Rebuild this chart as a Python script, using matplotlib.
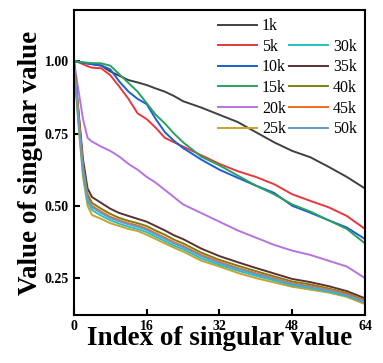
import matplotlib
matplotlib.use("Agg")
import matplotlib.pyplot as plt
from matplotlib.lines import Line2D

idx = [0, 1, 2, 3, 4, 6, 8, 10, 12, 14, 16, 18, 20, 22, 24, 28, 32, 36, 40, 44, 48, 52, 56, 60, 64]

sv_1k = [1.0, 0.998, 0.995, 0.993, 0.99, 0.985, 0.965, 0.95, 0.935, 0.927, 0.918, 0.906, 0.895, 0.88, 0.862,
         0.84, 0.815, 0.79, 0.755, 0.72, 0.69, 0.668, 0.635, 0.60, 0.56]
sv_5k = [1.0, 0.997, 0.99, 0.983, 0.978, 0.976, 0.952, 0.912, 0.87, 0.82, 0.80, 0.77, 0.735, 0.72, 0.705,
         0.675, 0.645, 0.62, 0.60, 0.575, 0.54, 0.517, 0.495, 0.465, 0.42]
sv_10k = [1.0, 0.998, 0.995, 0.992, 0.99, 0.986, 0.972, 0.93, 0.895, 0.87, 0.852, 0.80, 0.755, 0.725, 0.70,
          0.66, 0.625, 0.597, 0.57, 0.545, 0.50, 0.476, 0.45, 0.425, 0.385]
sv_15k = [1.0, 0.999, 0.997, 0.995, 0.994, 0.993, 0.985, 0.955, 0.925, 0.895, 0.855, 0.815, 0.785, 0.75, 0.72,
          0.67, 0.64, 0.605, 0.57, 0.54, 0.505, 0.48, 0.45, 0.42, 0.37]
sv_20k = [1.0, 0.9, 0.8, 0.735, 0.722, 0.705, 0.69, 0.67, 0.645, 0.625, 0.60, 0.58, 0.555, 0.53, 0.505,
          0.475, 0.445, 0.415, 0.39, 0.365, 0.345, 0.33, 0.31, 0.29, 0.25]
sv_25k = [1.0, 0.78, 0.6, 0.5, 0.468, 0.455, 0.44, 0.43, 0.42, 0.413, 0.4, 0.385, 0.37, 0.355, 0.342,
          0.31, 0.29, 0.268, 0.25, 0.235, 0.22, 0.21, 0.2, 0.185, 0.16]
sv_30k = [1.0, 0.79, 0.615, 0.515, 0.485, 0.466, 0.45, 0.438, 0.428, 0.42, 0.409, 0.393, 0.378, 0.362, 0.35,
          0.318, 0.296, 0.276, 0.258, 0.242, 0.225, 0.215, 0.203, 0.188, 0.165]
sv_35k = [1.0, 0.83, 0.66, 0.56, 0.53, 0.51, 0.49, 0.475, 0.465, 0.455, 0.445, 0.43, 0.415, 0.398, 0.385,
          0.352, 0.326, 0.305, 0.285, 0.266, 0.247, 0.236, 0.222, 0.205, 0.18]
sv_40k = [1.0, 0.82, 0.64, 0.54, 0.51, 0.49, 0.472, 0.458, 0.448, 0.44, 0.43, 0.414, 0.4, 0.383, 0.37,
          0.338, 0.313, 0.293, 0.274, 0.256, 0.238, 0.228, 0.214, 0.198, 0.172]
sv_45k = [1.0, 0.81, 0.63, 0.53, 0.5, 0.48, 0.462, 0.45, 0.44, 0.432, 0.421, 0.405, 0.39, 0.374, 0.361,
          0.33, 0.306, 0.285, 0.267, 0.25, 0.232, 0.222, 0.21, 0.194, 0.17]
sv_50k = [1.0, 0.8, 0.625, 0.525, 0.495, 0.475, 0.458, 0.446, 0.436, 0.428, 0.417, 0.401, 0.386, 0.37, 0.357,
          0.326, 0.302, 0.282, 0.264, 0.247, 0.229, 0.219, 0.207, 0.191, 0.167]

labels = ["1k", "5k", "10k", "15k", "20k", "25k", "30k", "35k", "40k", "45k", "50k"]
series = [sv_1k, sv_5k, sv_10k, sv_15k, sv_20k, sv_25k, sv_30k, sv_35k, sv_40k, sv_45k, sv_50k]
colors = ["#404040", "#e8383d", "#1a5fd6", "#2aa060", "#b673e0", "#c9a227",
          "#22c3c3", "#5c3030", "#7f7f10", "#f06a20", "#6a98c8"]

plt.rcParams["font.family"] = "Liberation Serif"
fig = plt.figure(figsize=(3.83, 3.63), dpi=100)
ax = fig.add_axes([0.193, 0.132, 0.76, 0.84])

handles = []
for y, c, lab in zip(series, colors, labels):
    h, = ax.plot(idx, y, color=c, lw=1.4, label=lab)
    handles.append(h)

# empty slot so the second column starts on the 5k row
blank = Line2D([], [], color="none", label=" ")
order = handles[:6] + [blank] + handles[6:]
ax.legend(handles=order, labels=[h.get_label() for h in order], ncol=2, frameon=False,
          loc="upper right", bbox_to_anchor=(1.0, 1.0), fontsize=11.5,
          handlelength=2.45, handletextpad=0.3, columnspacing=0.2, labelspacing=0.29,
          borderaxespad=0.1)

ax.set_xlim(0, 64)
ax.set_ylim(0.122, 1.177)
ax.set_xticks([0, 16, 32, 48, 64])
ax.set_yticks([0.25, 0.50, 0.75, 1.00])
ax.set_yticklabels(["0.25", "0.50", "0.75", "1.00"])
ax.tick_params(direction="in", length=4, width=1.5, labelsize=10)
for t in ax.get_xticklabels() + ax.get_yticklabels():
    t.set_fontweight("bold")
for s in ax.spines.values():
    s.set_linewidth(1.5)

ax.set_xlabel("Index of singular value", fontsize=19.5, fontweight="bold", labelpad=-5)
ax.set_ylabel("Value of singular value", fontsize=19.5, fontweight="bold", labelpad=1)

fig.savefig("out.png", dpi=100)
